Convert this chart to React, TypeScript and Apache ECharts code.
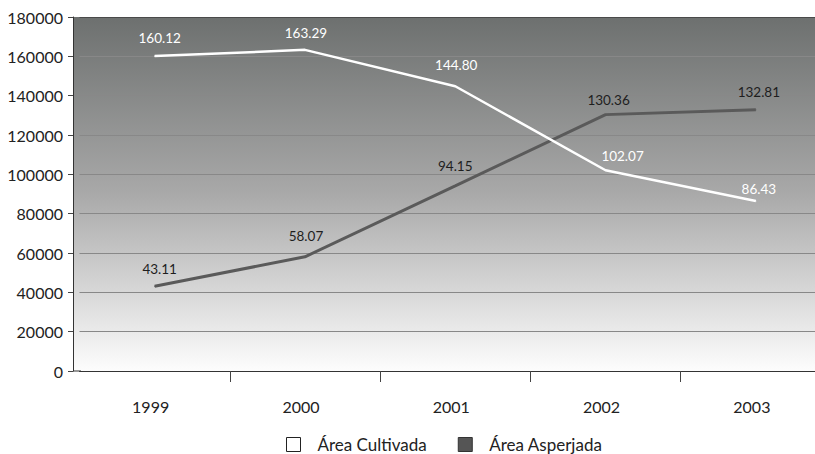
import React, { useEffect, useRef } from "react";
import * as echarts from "echarts";

// Años y superficies (ha)
const years = ["1999", "2000", "2001", "2002", "2003"];
const areaCultivada = [160120, 163290, 144800, 102070, 86430];
const areaAsperjada = [43110, 58070, 94150, 130360, 132810];
const yTicks = { min: 0, max: 180000, interval: 20000 };

// Small nudges for each value label
const cultivadaLabelOffsets = [[5, -11], [1, -9], [1, -14], [17, -7], [3, -5]];
const asperjadaLabelOffsets = [[5, -10], [1, -13], [0, -12], [3, -7], [3, -10]];

const FONT = "Lato";

const fmt = (v: number) => (v / 1000).toFixed(2);

function withLabels(values: number[], offsets: number[][], color: string) {
  return values.map((v, i) => ({
    value: v,
    label: {
      show: true,
      position: "top",
      distance: 0,
      offset: offsets[i],
      color,
      fontFamily: FONT,
      fontSize: 13.5,
      lineHeight: 14,
      formatter: () => fmt(v),
    },
  }));
}

export default function App() {
  const ref = useRef<HTMLDivElement>(null);

  useEffect(() => {
    if (!ref.current) return;
    const chart = echarts.init(ref.current, undefined, { renderer: "svg" });
    const splitColors = Array.from({ length: 10 }, (_, i) => (i === 9 ? "#4a4a4a" : "#888888"));

    chart.setOption({
      animation: false,
      backgroundColor: "#ffffff",
      textStyle: { fontFamily: FONT },
      graphic: [
        {
          type: "rect",
          z: -10,
          silent: true,
          shape: { x: 73, y: 17, width: 780, height: 354 },
          style: {
            fill: new echarts.graphic.LinearGradient(0, 0, 0, 1, [
              { offset: 0, color: "#6d706f" },
              { offset: 0.5, color: "#a9a9a9" },
              { offset: 1, color: "#fdfdfd" },
            ]),
          },
        },
        {
          type: "line",
          silent: true,
          shape: { x1: 73, y1: 371, x2: 81, y2: 371 },
          style: { stroke: "#333", lineWidth: 1 },
        },
      ],
      grid: { left: 79.5, top: 17, width: 751.5, height: 354, containLabel: false },
      legend: {
        left: 286,
        top: 436,
        padding: 0,
        itemWidth: 14,
        itemHeight: 14,
        itemGap: 31,
        icon: "rect",
        textStyle: {
          fontFamily: FONT,
          fontSize: 17,
          lineHeight: 16,
          color: "#222",
          padding: [0, 0, 0, 12],
        },
        data: [
          { name: "Área Cultivada", itemStyle: { color: "#ffffff", borderColor: "#222", borderWidth: 1 } },
          { name: "Área Asperjada", itemStyle: { color: "#555555", borderColor: "#333", borderWidth: 1 } },
        ],
      },
      xAxis: {
        type: "category",
        data: years,
        boundaryGap: true,
        axisLine: { lineStyle: { color: "#333", width: 1 } },
        axisTick: {
          show: true,
          length: 11,
          interval: (index: number) => index !== 0,
          lineStyle: { color: "#444" },
        },
        axisLabel: {
          color: "#222",
          fontFamily: FONT,
          fontSize: 16,
          margin: 27,
          padding: [0, 8, 0, 0],
        },
        splitLine: { show: false },
      },
      yAxis: {
        type: "value",
        min: yTicks.min,
        max: yTicks.max,
        interval: yTicks.interval,
        offset: 6.5,
        axisLine: { show: true, lineStyle: { color: "#333", width: 1 } },
        axisTick: { show: true, length: 5, lineStyle: { color: "#444" } },
        axisLabel: {
          color: "#222",
          fontFamily: FONT,
          fontSize: 16,
          margin: 10,
          formatter: (v: number) => String(v),
        },
        splitLine: { show: true, lineStyle: { color: splitColors, width: 1 } },
      },
      series: [
        {
          name: "Área Cultivada",
          type: "line",
          data: withLabels(areaCultivada, cultivadaLabelOffsets, "#ffffff"),
          symbol: "circle",
          symbolSize: 1,
          showSymbol: true,
          lineStyle: { color: "#ffffff", width: 2.5 },
          itemStyle: { color: "#ffffff" },
          z: 3,
        },
        {
          name: "Área Asperjada",
          type: "line",
          data: withLabels(areaAsperjada, asperjadaLabelOffsets, "#1e1e1e"),
          symbol: "circle",
          symbolSize: 1,
          showSymbol: true,
          lineStyle: { color: "#5a5a5a", width: 3 },
          itemStyle: { color: "#5a5a5a" },
          z: 2,
        },
      ],
    });

    return () => chart.dispose();
  }, []);

  return (
    <div style={{ position: "fixed", left: 0, top: 0, width: 815, height: 454, overflow: "hidden" }}>
      <div ref={ref} style={{ width: 850, height: 454 }} />
    </div>
  );
}
